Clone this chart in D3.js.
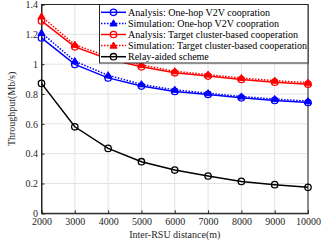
<!DOCTYPE html>
<html><head><meta charset="utf-8">
<script src="https://cdn.jsdelivr.net/npm/d3@7"></script>
<style>body{margin:0;background:#fff}svg{display:block}text{font-family:"Liberation Serif","Times New Roman",serif}</style>
</head><body><svg id="c" width="334" height="247"></svg>
<script>
const distances = [2000,3000,4000,5000,6000,7000,8000,9000,10000];
const analysisOneHop = [1.176,0.998,0.908,0.853,0.817,0.797,0.774,0.757,0.743];
const simOneHop = [1.21,1.02,0.925,0.865,0.828,0.805,0.783,0.766,0.752];
const analysisCluster = [1.29,1.116,1.035,0.982,0.942,0.920,0.897,0.879,0.866];
const simCluster = [1.32,1.13,1.05,0.995,0.952,0.93,0.907,0.889,0.876];
const relay = [0.871,0.58,0.435,0.346,0.29,0.25,0.214,0.192,0.174];
const yTicks = [0,0.2,0.4,0.6,0.8,1,1.2,1.4];
const xTicks = [2000,3000,4000,5000,6000,7000,8000,9000,10000];
const seriesNames = ["Analysis: One-hop V2V coopration","Simulation: One-hop V2V coopration","Analysis: Target cluster-based cooperation","Simulation: Target cluster-based cooperation","Relay-aided scheme"];

const series = [
  {name:seriesNames[0], vals:analysisOneHop, color:"#0000ff", dash:null, marker:"circle"},
  {name:seriesNames[1], vals:simOneHop, color:"#0000ff", dash:"1.5,1.5", marker:"triangle"},
  {name:seriesNames[2], vals:analysisCluster, color:"#ff0000", dash:null, marker:"circle"},
  {name:seriesNames[3], vals:simCluster, color:"#ff0000", dash:"1.5,1.5", marker:"triangle"},
  {name:seriesNames[4], vals:relay, color:"#000000", dash:null, marker:"circle"}
];

const svg = d3.select("#c");
const L=41.5, R=308, T=4.5, B=213.3;
const x = d3.scaleLinear().domain([2000,10000]).range([L,R]);
const y = d3.scaleLinear().domain([0,1.4]).range([B,T]);

// grid
svg.append("g").selectAll("line").data(xTicks).join("line")
  .attr("x1",d=>x(d)).attr("x2",d=>x(d)).attr("y1",T).attr("y2",B)
  .attr("stroke","#e3e3e3").attr("stroke-width",1);
svg.append("g").selectAll("line").data(yTicks).join("line")
  .attr("x1",L).attr("x2",R).attr("y1",d=>y(d)).attr("y2",d=>y(d))
  .attr("stroke","#e3e3e3").attr("stroke-width",1);

// box
svg.append("rect").attr("x",L).attr("y",T).attr("width",R-L).attr("height",B-T)
  .attr("fill","none").attr("stroke","#262626").attr("stroke-width",1);

const xAxis = svg.append("g").attr("transform",`translate(0,${B})`)
  .call(d3.axisBottom(x).tickValues(xTicks).tickSize(-3).tickPadding(5).tickFormat(d3.format("d")));
const yAxis = svg.append("g").attr("transform",`translate(${L},0)`)
  .call(d3.axisLeft(y).tickValues(yTicks).tickSize(-3).tickPadding(3.5).tickFormat(d=>d===0||d===1?String(d):d.toFixed(1)));
[xAxis,yAxis].forEach(a=>{
  a.select(".domain").attr("stroke","#262626");
  a.selectAll(".tick line").attr("stroke","#262626");
  a.selectAll("text").attr("font-family",'"Liberation Serif",serif').attr("font-size",10).attr("fill","#262626");
});

const line = d3.line().x((d,i)=>x(distances[i])).y(d=>y(d));
const tri = d3.symbol().type(d3.symbolTriangle).size(22);

function drawMarker(g, cx, cy, s){
  if(s.marker==="circle"){
    g.append("circle").attr("cx",cx).attr("cy",cy).attr("r",3.2)
      .attr("fill","none").attr("stroke",s.color).attr("stroke-width",1.3);
  } else {
    g.append("path").attr("d",tri).attr("transform",`translate(${cx},${cy+0.5})`)
      .attr("fill",s.color).attr("stroke",s.color).attr("stroke-width",1);
  }
}

series.forEach(s=>{
  const g = svg.append("g");
  g.append("path").datum(s.vals).attr("d",line).attr("fill","none")
    .attr("stroke",s.color).attr("stroke-width",1.5).attr("stroke-dasharray",s.dash);
  s.vals.forEach((v,i)=>drawMarker(g,x(distances[i]),y(v),s));
});

// legend
const lg = svg.append("g");
lg.append("rect").attr("x",99.5).attr("y",T).attr("width",R-99.5).attr("height",58.5)
  .attr("fill","#fff").attr("stroke","#262626").attr("stroke-width",1);
series.forEach((s,i)=>{
  const yy = 12.3 + i*11.1;
  lg.append("line").attr("x1",101).attr("x2",126).attr("y1",yy).attr("y2",yy)
    .attr("stroke",s.color).attr("stroke-width",1.5).attr("stroke-dasharray",s.dash);
  drawMarker(lg,113.5,yy,s);
  lg.append("text").attr("x",128).attr("y",yy+3.5).attr("font-size",10).attr("fill","#000").text(s.name);
});

svg.append("text").attr("x",(L+R)/2).attr("y",238).attr("text-anchor","middle")
  .attr("font-size",10).attr("fill","#262626").text("Inter-RSU distance(m)");
svg.append("text").attr("transform",`translate(15,${(T+B)/2}) rotate(-90)`).attr("text-anchor","middle")
  .attr("font-size",10).attr("fill","#262626").text("Throughput(Mb/s)");
</script></body></html>
